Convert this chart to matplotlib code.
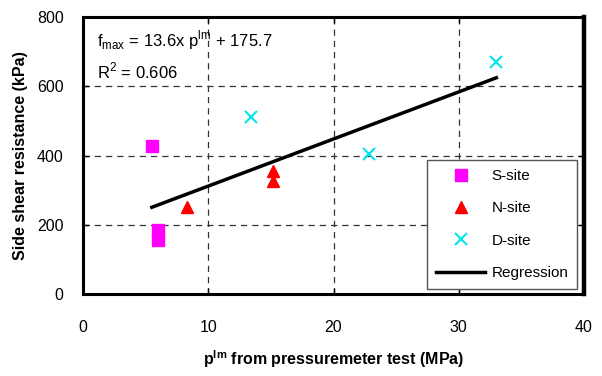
import matplotlib
matplotlib.use('Agg')
import matplotlib.pyplot as plt

plt.rcParams['font.family'] = ['Liberation Sans', 'DejaVu Sans']
plt.rcParams['mathtext.fontset'] = 'custom'
plt.rcParams['mathtext.rm'] = 'Liberation Sans'
plt.rcParams['mathtext.bf'] = 'Liberation Sans:bold'

s_x = [5.5, 6.0, 6.0]
s_y = [428, 185, 155]
n_x = [8.3, 15.2, 15.2]
n_y = [252, 355, 325]
d_x = [13.4, 22.8, 33.0]
d_y = [510, 404, 670]

slope = 13.6
intercept = 175.7
r2 = 0.606
reg_x = [5.5, 33.0]
reg_y = [slope * x + intercept for x in reg_x]

xticks = [0, 10, 20, 30, 40]
yticks = [0, 200, 400, 600, 800]

fig = plt.figure(figsize=(6.02, 3.76), dpi=100)
ax = fig.add_axes([83 / 602, 1 - 294 / 376, 501 / 602, 277 / 376])

ax.plot(s_x, s_y, 's', color='#ff00ff', ms=8, mec='#ff00ff', label='S-site', zorder=3)
ax.plot(n_x, n_y, '^', color='#ff0000', ms=9, mec='#ff0000', label='N-site', zorder=3)
ax.plot(d_x, d_y, 'x', color='#00e5ee', ms=8, mew=1.5, label='D-site', zorder=3)
ax.plot(reg_x, reg_y, '-', color='black', lw=2.5, label='Regression', zorder=3)

ax.set_xlim(0, 40)
ax.set_ylim(0, 800)
ax.set_xticks(xticks)
ax.set_yticks(yticks)
ax.tick_params(direction='in', length=4, width=1, top=True, right=True,
               labelsize=11.5, pad=14)
ax.tick_params(axis='x', pad=19)
for lbl in ax.get_xticklabels() + ax.get_yticklabels():
    lbl.set_family(['Liberation Sans Narrow', 'Liberation Sans'])

ax.grid(True, color='#333333', linestyle=(0, (5, 4)), lw=0.9)
ax.set_axisbelow(True)
for side in ['top', 'bottom', 'left']:
    ax.spines[side].set_linewidth(2.2)
ax.spines['right'].set_linewidth(3.2)

ax.set_ylabel('Side shear resistance (kPa)', fontsize=11.5, fontweight='bold', labelpad=6)
ax.set_xlabel(r'p$^{\mathbf{lm}}$ from pressuremeter test (MPa)', fontsize=11.5,
              fontweight='bold', labelpad=9)

ax.text(1.1, 733, r'f$_{\mathregular{max}}$ = 13.6x p$^{\mathregular{lm}}$ + 175.7',
        fontsize=12, va='center')
ax.text(1.1, 645, 'R$^{\\mathregular{2}}$ = %.3f' % r2, fontsize=12, va='center')

leg = ax.legend(loc='lower left', bbox_to_anchor=(0.687, 0.018), fontsize=11,
                frameon=True, fancybox=False, framealpha=1, edgecolor='#555555',
                handlelength=3.2, handletextpad=0.4, labelspacing=1.2,
                borderpad=0.6, borderaxespad=0)
leg.get_frame().set_linewidth(1.0)

fig.savefig('out.png', dpi=100)
